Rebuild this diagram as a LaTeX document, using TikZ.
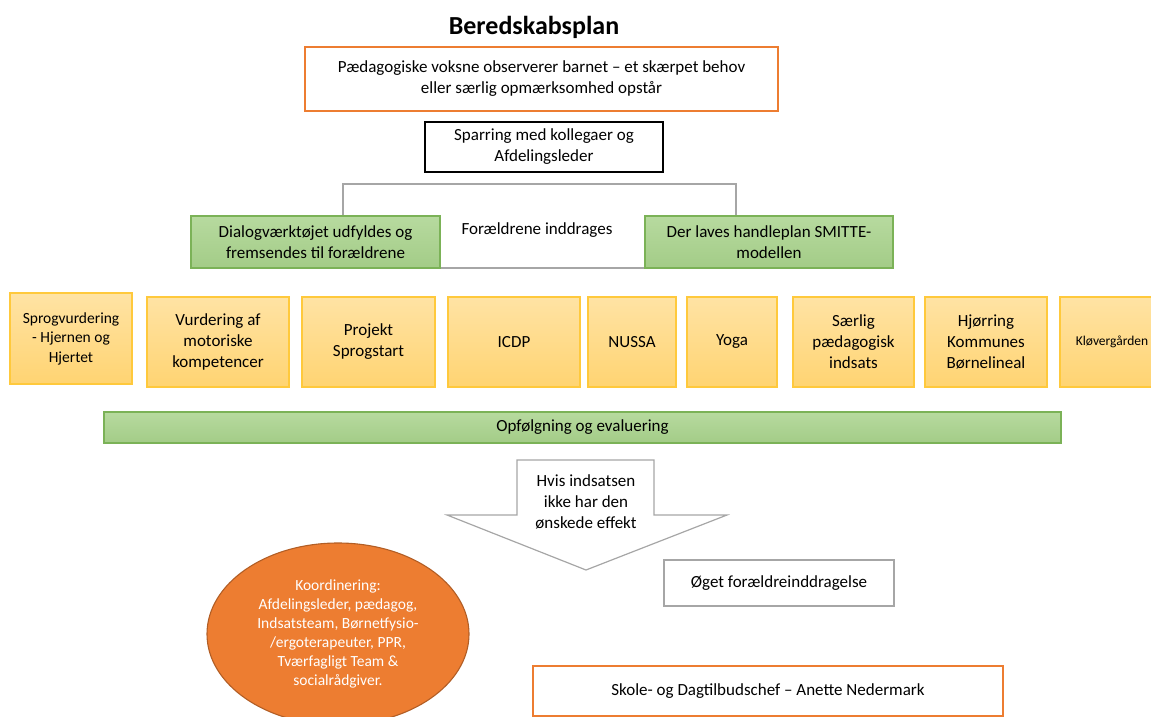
\documentclass[tikz,border=0pt]{standalone}
\usepackage{fontspec}
\setmainfont{Carlito}
\usepackage{xcolor}
\usepackage{tikz}
\usetikzlibrary{shapes.geometric}

\definecolor{planorange}{HTML}{ED7D31}
\definecolor{plangray}{HTML}{A6A6A6}
\definecolor{greenline}{HTML}{7BB257}
\definecolor{greentop}{HTML}{B7DA9F}
\definecolor{greenbot}{HTML}{A3CC87}
\definecolor{yellowline}{HTML}{FFC93C}
\definecolor{yellowtop}{HTML}{FFE3A4}
\definecolor{yellowbot}{HTML}{FFD472}

\begin{document}
\begin{tikzpicture}[x=1pt,y=-1pt,
    txt/.style={font=\fontsize{17}{21}\selectfont, align=center, inner sep=0pt},
    obsbox/.style={txt, draw=planorange, line width=1.2pt},
    plainbox/.style={txt, draw=black, line width=1.1pt},
    graybox/.style={txt, draw=plangray, line width=1.2pt},
    greenbox/.style={txt, draw=greenline, line width=1.1pt, top color=greentop, bottom color=greenbot},
    ybox/.style={txt, draw=yellowline, line width=1.1pt, top color=yellowtop, bottom color=yellowbot,
      minimum height=90pt}]
  \useasboundingbox (0,0) rectangle (1151,717);
  \clip (0,0) rectangle (1151,717);

  \node[font=\fontsize{26}{30}\selectfont\bfseries] (title) at (534,27) {Beredskabsplan};

  \node[obsbox, minimum width=473pt, minimum height=64pt] (obs) at (541.5,79)
    {Pædagogiske voksne observerer barnet – et skærpet behov\\eller særlig opmærksomhed opstår};
  \node[plainbox, minimum width=238pt, minimum height=50pt] (spar) at (544,147)
    {Sparring med kollegaer og\\Afdelingsleder};

  \node[graybox, minimum width=393pt, minimum height=84pt] (inddrag) at (539.5,226) {};
  \node[txt] (inddragtxt) at (537,230) {Forældrene inddrages};
  \node[greenbox, minimum width=249pt, minimum height=52pt] (dialog) at (315.5,242)
    {Dialogværktøjet udfyldes og\\fremsendes til forældrene};
  \node[greenbox, minimum width=248pt, minimum height=52pt] (smitte) at (769,242)
    {Der laves handleplan SMITTE-\\modellen};

  \node[ybox, minimum width=122pt, minimum height=91pt, font=\fontsize{15.5}{19.5}\selectfont] (sprog) at (71,338.5)
    {Sprogvurdering\\- Hjernen og\\Hjertet};
  \node[ybox, minimum width=142pt] (motor) at (218,342) {Vurdering af\\motoriske\\kompetencer};
  \node[ybox, minimum width=133pt] (projekt) at (368.5,342) {Projekt\\Sprogstart};
  \node[ybox, minimum width=132pt] (icdp) at (514,342) {ICDP};
  \node[ybox, minimum width=88pt] (nussa) at (632,342) {NUSSA};
  \node[ybox, minimum width=90pt] (yoga) at (732,342) {Yoga};
  \node[ybox, minimum width=121pt] (saerlig) at (853.5,342) {Særlig\\pædagogisk\\indsats};
  \node[ybox, minimum width=122pt] (hjoerring) at (986,342) {Hjørring\\Kommunes\\Børnelineal};
  \node[ybox, minimum width=104pt, font=\fontsize{13.5}{17}\selectfont] (kloever) at (1112,342) {Kløvergården};

  \node[greenbox, minimum width=957pt, minimum height=31pt] (opf) at (582.5,427.5) {Opfølgning og evaluering};

  \draw[plangray, line width=1.2pt] (517,460) -- (654,460) -- (654,515) -- (727,515) -- (586,570)
    -- (447,515) -- (517,515) -- cycle;
  \node[txt] (hvis) at (586,502) {Hvis indsatsen\\ikke har den\\ønskede effekt};

  \node[ellipse, draw=planorange!75!black, line width=1.1pt, fill=planorange, text=white,
    minimum width=262pt, minimum height=182pt, inner sep=0pt, align=center,
    font=\fontsize{15.5}{19}\selectfont] (koord) at (338,634)
    {Koordinering:\\Afdelingsleder, pædagog,\\Indsatsteam, Børnetfysio-\\/ergoterapeuter, PPR,\\Tværfagligt Team \&\\socialrådgiver.};

  \node[graybox, minimum width=230pt, minimum height=46pt] (oget) at (779,583) {Øget forældreinddragelse};
  \node[obsbox, minimum width=470pt, minimum height=50pt] (skole) at (768,691)
    {Skole- og Dagtilbudschef – Anette Nedermark};
\end{tikzpicture}
\end{document}
